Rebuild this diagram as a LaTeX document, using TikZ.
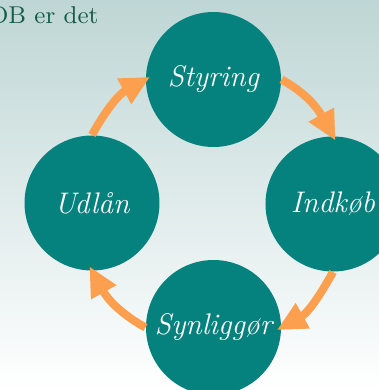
\documentclass[tikz,border=0pt]{standalone}
\usetikzlibrary{arrows.meta}
\definecolor{tealfill}{RGB}{5,130,126}
\definecolor{arroworange}{RGB}{252,160,80}
\definecolor{bgtop}{RGB}{190,214,213}
\definecolor{titlegreen}{RGB}{18,92,74}
\tikzset{
  module/.style={circle, fill=tealfill, text=white, minimum size=1.755cm, inner sep=0pt,
    font=\fontsize{11}{13}\selectfont\itshape},
  flow/.style={arroworange, line width=3pt, -{Triangle[length=11pt,width=10pt]}, shorten >=-2pt},
}
\begin{document}
\begin{tikzpicture}[x=0.013cm, y=0.013cm]
  \shade[top color=bgtop, bottom color=white] (0,0) rectangle (379,390);
  \useasboundingbox (0,0) rectangle (379,390);
  \node[anchor=base east, inner sep=0pt, text=titlegreen, font=\fontsize{9}{11}\selectfont] (head) at (99,367) {DB er det};
  \node[module] (sty) at (213.5,310.5) {Styring};
  \node[module] (ind) at (333,186) {Indkøb};
  \node[module] (syn) at (213.5,62.5) {Synliggør};
  \node[module] (udl) at (92,187) {Udlån};
  \draw[flow] (sty.east) to[out=-29, in=119] (ind.north);
  \draw[flow] (ind.south) to[out=-119, in=29] (syn.east);
  \draw[flow] (syn.west) to[out=151, in=-61] (udl.south);
  \draw[flow] (udl.north) to[out=61, in=-151] (sty.west);
\end{tikzpicture}
\end{document}
